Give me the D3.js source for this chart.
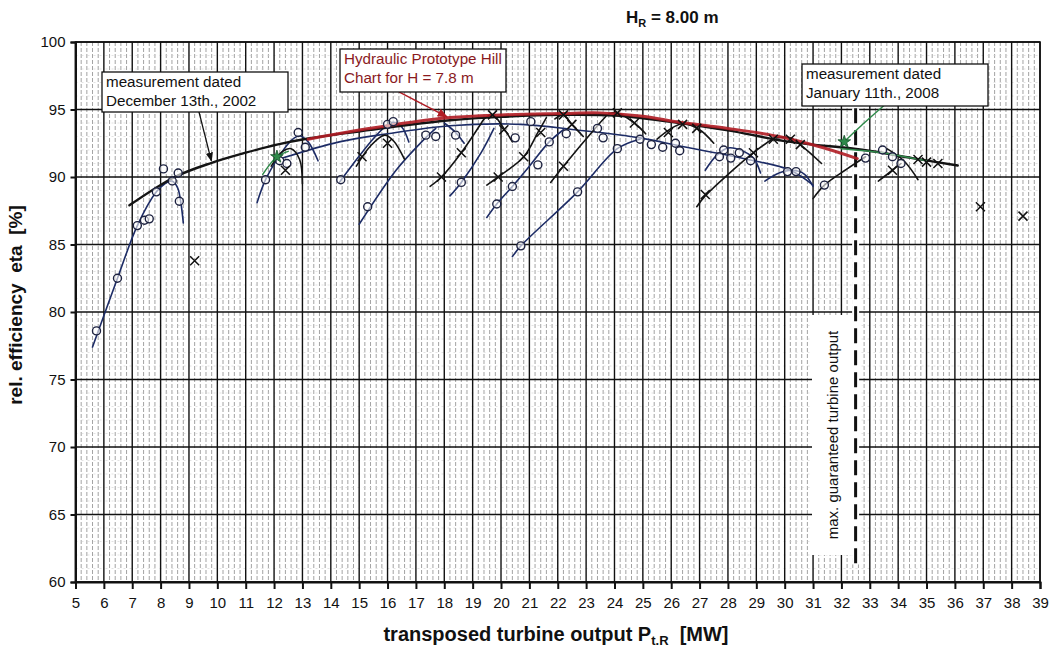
<!DOCTYPE html>
<html><head><meta charset="utf-8">
<script src="https://cdn.jsdelivr.net/npm/d3@7"></script>
<style>
html,body{margin:0;padding:0;background:#fff;}
svg{display:block;font-family:"Liberation Sans",Arial,sans-serif;}
</style></head>
<body><svg id="c" width="1050" height="647"></svg>
<script>
// ---------- DATA ----------
const xTicks = d3.range(5, 40, 1);
const yTicks = [60, 65, 70, 75, 80, 85, 90, 95, 100];

// Hydraulic prototype hill chart (red)
const redHill = [[13.2,92.8],[14.5,93.3],[16,93.8],[18.2,94.4],[20,94.6],[22.1,94.7],[23.5,94.75],[25,94.5],[26.3,94.05],[28,93.6],[29.8,93.0],[31.3,92.2],[32.56,91.36]];
// upper envelope (black)
const envUpper = [[6.9,87.9],[8.5,90.0],[9.8,91.05],[11,91.8],[12.1,92.4],[13.2,92.85],[14.7,93.3],[16.5,93.8],[18.2,94.2],[20,94.45],[22.1,94.6],[24,94.55],[26.3,94.0],[28,93.45],[30.2,92.6],[32.8,92.0],[34.5,91.4],[36.1,90.85]];
// lower envelope (navy)
const envLower = [[12.3,91.4],[14.3,92.6],[16,93.2],[18.2,93.8],[20.7,93.9],[22.6,93.5],[24.9,92.9],[26.3,92.3],[28.7,91.3],[30.2,90.5],[31.0,89.4]];

// navy measurement curves (2002)
const curveSteep = [[5.6,77.4],[6.48,82.5],[7.18,86.4],[7.85,88.9],[8.15,89.5],[8.4,89.7],[8.6,89.2],[8.72,88.0],[8.8,86.6]];
const arc12a = [[11.4,88.1],[11.7,89.8],[12.2,91.6],[12.6,92.7],[12.9,93.05],[13.2,92.6],[13.55,91.2]];
const arc15a = [[14.3,89.6],[14.8,91.0],[15.4,92.6],[15.9,93.7],[16.2,94.05],[16.5,93.7],[16.75,92.6]];
const diag15 = [[15.0,86.5],[16.3,90.5],[17.2,92.6],[17.7,93.6]];
const arc18 = [[18.0,94.0],[18.4,93.3],[18.7,92.5]];
const diag18o = [[18.2,88.6],[18.6,89.6],[19.3,91.8],[19.75,93.6]];
const diag20o = [[19.5,87.0],[19.85,88.0],[20.4,89.3],[21.0,90.8],[21.7,92.6],[22.2,93.5]];
const diag21o = [[20.4,84.1],[20.7,84.9],[22.7,88.9],[24.1,92.1],[24.9,92.8]];
const arc28 = [[27.2,90.5],[27.6,91.6],[28.0,92.15],[28.5,91.95],[28.9,91.4],[29.15,90.3]];
const arc30 = [[29.3,89.7],[29.8,90.3],[30.3,90.5],[30.7,90.2],[31.0,89.3]];

// black measurement curves (2008)
const arc12b = [[11.9,90.8],[12.3,91.9],[12.6,92.1],[12.9,91.3],[13.0,89.5]];
const arc15b = [[14.9,90.8],[15.4,92.3],[15.9,93.1],[16.2,92.7],[16.6,91.3]];
const diag18x = [[17.5,89.3],[17.9,90.0],[18.6,91.8],[19.4,94.3]];
const arc20 = [[19.4,94.3],[19.7,94.6],[20.1,93.6],[20.4,92.6]];
const diag20x = [[19.5,89.4],[19.9,90.0],[20.8,91.5],[21.3,93.3],[21.6,94.4]];
const arc22 = [[21.9,94.3],[22.2,94.6],[22.5,93.9],[22.9,93.0]];
const diag21x = [[21.75,89.6],[22.2,90.8],[23.4,93.8],[23.7,94.5]];
const arc24 = [[23.8,94.7],[24.1,94.75],[24.7,94.0],[25.1,93.2]];
const arc26 = [[25.5,92.8],[26.0,93.6],[26.4,93.95],[27.0,93.5],[27.5,92.5]];
const diag27x = [[26.9,87.8],[27.2,88.6],[28.9,91.8],[29.7,93.0]];
const arc30b = [[29.7,92.9],[30.2,92.9],[30.6,92.3],[31.3,91.0]];
const diag31o = [[31.0,88.4],[31.4,89.4],[32.2,90.6],[32.85,91.5]];
const diag33x = [[33.3,89.7],[33.8,90.5],[34.1,91.0]];
const arc34 = [[33.6,92.1],[34.2,91.2],[34.7,89.8]];

// green curves
const diagGreen = [[32.0,92.3],[32.1,92.6],[32.8,94.0],[33.5,95.3]];
const greenEnv = [[32.0,92.1],[33.0,91.9],[34.0,91.6],[35.0,91.2]];
const arc12g = [[11.6,90.2],[12.1,91.5],[12.5,91.9]];

// markers
const circles = [[5.74,78.6],[6.48,82.5],[7.18,86.4],[7.43,86.8],[7.6,86.9],[7.85,88.9],[8.1,90.6],[8.41,89.7],[8.62,90.3],[8.66,88.2],
[11.7,89.8],[12.2,91.2],[12.45,91.0],[12.85,93.3],[13.1,92.2],
[14.35,89.8],[15.3,87.8],[16.0,93.9],[16.2,94.1],[17.35,93.1],[17.7,93.0],[18.4,93.1],[18.6,89.6],
[19.85,88.0],[20.4,89.3],[20.5,92.9],[20.7,84.9],[21.05,94.1],[21.3,90.9],[21.7,92.6],[22.3,93.2],[22.7,88.9],[23.4,93.6],[23.6,92.9],[24.1,92.1],[24.9,92.8],[25.3,92.4],[25.7,92.2],[26.15,92.5],[26.3,91.95],
[27.7,91.5],[27.85,92.0],[28.1,91.4],[28.4,91.8],[28.8,91.2],[30.1,90.4],[30.4,90.4],[31.4,89.4],
[32.85,91.4],[33.45,92.0],[33.8,91.5],[34.1,91.0]];
const crosses = [[9.2,83.8],[12.4,90.5],[15.1,91.5],[16.0,92.5],[17.9,90.0],[18.6,91.8],[19.7,94.6],[19.9,90.0],[20.1,93.5],[20.8,91.5],[21.4,93.3],[22.2,94.6],[22.2,90.8],[22.5,93.9],[24.1,94.75],[24.7,94.0],[25.9,93.3],[26.4,93.9],[26.9,93.6],[27.2,88.7],[28.9,91.8],[29.6,92.8],[30.2,92.8],[30.55,92.4],[33.8,90.5],[34.7,91.3],[35.0,91.1],[35.4,91.0],[36.9,87.8],[38.4,87.1]];
const greenMarks = [[12.1,91.5],[32.1,92.6]];

const maxGuaranteed = 32.5;
const maxLineRange = [61.3, 95.1];

const navyCurves = [envLower, curveSteep, arc12a, arc15a, diag15, arc18, diag18o, diag20o, diag21o, arc28, arc30];
const blackCurves = [arc12b, arc15b, diag18x, arc20, diag20x, arc22, diag21x, arc24, arc26, diag27x, arc30b, diag31o, diag33x, arc34];
const greenCurves = [diagGreen, greenEnv, arc12g];

// ---------- DRAW ----------
const svg = d3.select("#c");
const x = d3.scaleLinear().domain([5, 39]).range([75.5, 1040]);
const y = d3.scaleLinear().domain([60, 100]).range([582, 42]);
const X0 = x.range()[0], X1 = x.range()[1], Y0 = y.range()[0], Y1 = y.range()[1];

const grid = svg.append("g");
// minor vertical
grid.selectAll("line.mv").data(d3.range(5, 39.001, 0.2).filter(v => Math.abs(v - Math.round(v)) > 0.01))
  .join("line").attr("x1", d => x(d)).attr("x2", d => x(d)).attr("y1", Y1).attr("y2", Y0)
  .attr("stroke", "#8c8c8c").attr("stroke-width", 0.8).attr("stroke-dasharray", "4,2");
// minor horizontal
grid.selectAll("line.mh").data(d3.range(60, 100, 1).filter(v => v % 5 !== 0))
  .join("line").attr("x1", X0).attr("x2", X1).attr("y1", d => y(d)).attr("y2", d => y(d))
  .attr("stroke", "#d0d0d0").attr("stroke-width", 0.6).attr("stroke-dasharray", "2,4");
// major vertical
grid.selectAll("line.Mv").data(xTicks)
  .join("line").attr("x1", d => x(d)).attr("x2", d => x(d)).attr("y1", Y1).attr("y2", Y0)
  .attr("stroke", "#111").attr("stroke-width", 1.4);
// major horizontal
grid.selectAll("line.Mh").data(yTicks)
  .join("line").attr("x1", X0).attr("x2", X1).attr("y1", d => y(d)).attr("y2", d => y(d))
  .attr("stroke", "#111").attr("stroke-width", 1.4);

// axes
const xAxis = svg.append("g").attr("transform", `translate(0,${Y0})`)
  .call(d3.axisBottom(x).tickValues(xTicks).tickSize(7).tickPadding(8).tickFormat(d3.format("d")));
const yAxis = svg.append("g").attr("transform", `translate(${X0},0)`)
  .call(d3.axisLeft(y).tickValues(yTicks).tickSize(5).tickPadding(5).tickFormat(d3.format("d")));
[xAxis, yAxis].forEach(a => {
  a.select(".domain").attr("stroke", "#111").attr("stroke-width", 2);
  a.selectAll(".tick line").attr("stroke", "#111").attr("stroke-width", 2);
  a.selectAll(".tick text").attr("font-size", 15).attr("fill", "#111")
    .attr("font-family", "'Liberation Sans',Arial,sans-serif");
});
svg.append("rect").attr("x", X0).attr("y", Y1).attr("width", X1 - X0).attr("height", Y0 - Y1)
  .attr("fill", "none").attr("stroke", "#111").attr("stroke-width", 1.6);

// white box for max guaranteed output label + strip behind dashed line
svg.append("rect").attr("x", 812).attr("y", 315).attr("width", 41).attr("height", 240).attr("fill", "#fff");
svg.append("rect").attr("x", x(maxGuaranteed) - 3.5).attr("y", y(maxLineRange[1])).attr("width", 7)
  .attr("height", y(maxLineRange[0]) - y(maxLineRange[1])).attr("fill", "#fff");
svg.append("text").attr("transform", "translate(838,435) rotate(-90)")
  .attr("text-anchor", "middle").attr("font-size", 15).attr("fill", "#111")
  .text("max. guaranteed turbine output");
svg.append("line").attr("x1", x(maxGuaranteed)).attr("x2", x(maxGuaranteed))
  .attr("y1", y(maxLineRange[1])).attr("y2", y(maxLineRange[0]))
  .attr("stroke", "#111").attr("stroke-width", 3).attr("stroke-dasharray", "15,7");

// curves
const line = d3.line().x(d => x(d[0])).y(d => y(d[1])).curve(d3.curveCatmullRom.alpha(0.5));
const cg = svg.append("g").attr("fill", "none").attr("stroke-linecap", "round");
cg.selectAll("path.navy").data(navyCurves).join("path").attr("d", line)
  .attr("stroke", "#1d2c66").attr("stroke-width", 1.6);
cg.selectAll("path.black").data(blackCurves).join("path").attr("d", line)
  .attr("stroke", "#141414").attr("stroke-width", 1.6);
cg.append("path").datum(envUpper).attr("d", line).attr("stroke", "#141414").attr("stroke-width", 2.4);
cg.append("path").datum(redHill).attr("d", line).attr("stroke", "#b01c24").attr("stroke-width", 3).attr("stroke-opacity", 0.9);
cg.selectAll("path.green").data(greenCurves).join("path").attr("d", line)
  .attr("stroke", "#2f8a4a").attr("stroke-width", 1.5);

// markers
svg.append("g").selectAll("circle").data(circles).join("circle")
  .attr("cx", d => x(d[0])).attr("cy", d => y(d[1])).attr("r", 4)
  .attr("fill", "rgba(255,255,255,0.6)").attr("stroke", "#1d2240").attr("stroke-width", 1.4);
const cs = 4.5;
svg.append("g").selectAll("path").data(crosses).join("path")
  .attr("d", d => { const px = x(d[0]), py = y(d[1]);
    return `M${px-cs},${py-cs}L${px+cs},${py+cs}M${px-cs},${py+cs}L${px+cs},${py-cs}`; })
  .attr("stroke", "#111").attr("stroke-width", 1.5).attr("fill", "none");
svg.append("g").selectAll("path").data(greenMarks).join("path")
  .attr("transform", d => `translate(${x(d[0])},${y(d[1])})`)
  .attr("d", d3.symbol(d3.symbolStar, 50)).attr("fill", "#2f8a4a").attr("stroke", "#14502a").attr("stroke-width", 0.8);

// annotation boxes
function box(x0, y0, w, h, lines, color) {
  svg.append("rect").attr("x", x0).attr("y", y0).attr("width", w).attr("height", h)
    .attr("fill", "#fff").attr("stroke", "#111").attr("stroke-width", 1.3);
  lines.forEach((t, i) => svg.append("text").attr("x", x0 + 4).attr("y", y0 + 14.5 + i * 19.5)
    .attr("font-size", 15.2).attr("fill", color).text(t));
}
// arrows
svg.append("defs").html(
  '<marker id="ab" viewBox="0 0 10 10" refX="9" refY="5" markerWidth="7" markerHeight="7" orient="auto"><path d="M0,1L10,5L0,9z" fill="#111"/></marker>' +
  '<marker id="ar" viewBox="0 0 10 10" refX="9" refY="5" markerWidth="7" markerHeight="7" orient="auto"><path d="M0,1L10,5L0,9z" fill="#b01c24"/></marker>');
svg.append("line").attr("x1", x(9.35)).attr("y1", y(94.84)).attr("x2", x(9.79)).attr("y2", y(91.2))
  .attr("stroke", "#111").attr("stroke-width", 1.3).attr("marker-end", "url(#ab)");
svg.append("line").attr("x1", x(16.4)).attr("y1", y(96.3)).attr("x2", x(18.1)).attr("y2", y(94.45))
  .attr("stroke", "#b01c24").attr("stroke-width", 1.5).attr("marker-end", "url(#ar)");

box(102, 72, 186, 40, ["measurement dated", "December 13th., 2002"], "#111");
box(340, 49, 166, 43, ["Hydraulic Prototype Hill", "Chart for H = 7.8 m"], "#8a1a1e");
box(802, 64, 186, 42, ["measurement dated", "January 11th., 2008"], "#111");

// titles
const t = svg.append("text").attr("x", 626).attr("y", 23).attr("font-size", 17).attr("font-weight", "bold").attr("fill", "#111");
t.append("tspan").text("H");
t.append("tspan").attr("font-size", 11).attr("dy", 4).text("R");
t.append("tspan").attr("dy", -4).text(" = 8.00 m");

const xl = svg.append("text").attr("x", 556).attr("y", 641).attr("text-anchor", "middle")
  .attr("font-size", 20).attr("font-weight", "bold").attr("fill", "#111");
xl.append("tspan").text("transposed turbine output P");
xl.append("tspan").attr("font-size", 13).attr("dy", 4).text("t.R");
xl.append("tspan").attr("dy", -4).text("\u00a0\u00a0[MW]");

svg.append("text").attr("transform", "translate(22,305) rotate(-90)").attr("text-anchor", "middle")
  .attr("font-size", 19).attr("font-weight", "bold").attr("fill", "#111")
  .text("rel. efficiency\u00a0 eta\u00a0 [%]");
</script></body></html>
